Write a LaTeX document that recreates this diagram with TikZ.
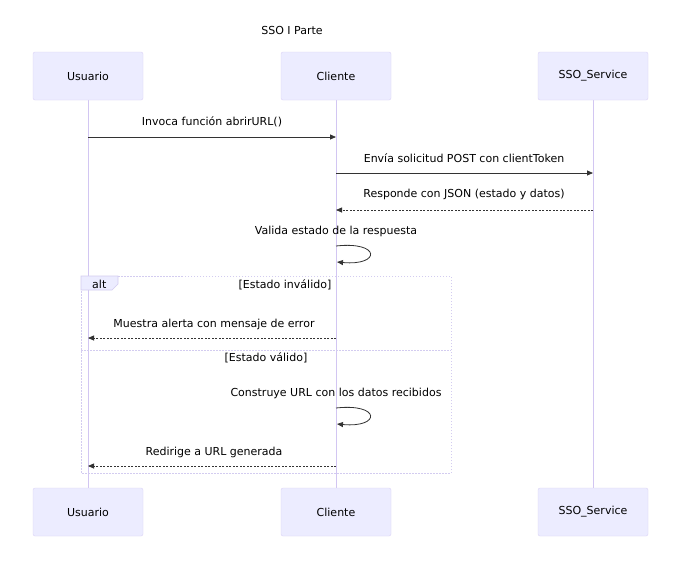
\documentclass[tikz,border=0pt]{standalone}
\usepackage{fontspec}
\setmainfont{DejaVu Sans}
\usetikzlibrary{arrows.meta}
\definecolor{actfill}{HTML}{ECECFF}
\definecolor{actdraw}{HTML}{DCD3F5}
\definecolor{lifeline}{HTML}{D2C6F2}
\definecolor{msg}{HTML}{333333}
\definecolor{altline}{HTML}{D3CCF0}
\begin{document}
\begin{tikzpicture}[x=1pt,y=-1pt,
  actor/.style={draw=actdraw,fill=actfill,rounded corners=2pt,minimum width=110pt,minimum height=48pt,inner sep=0pt,font=\fontsize{11}{13}\selectfont},
  lbl/.style={font=\fontsize{11}{13}\selectfont,text=black,inner sep=0pt},
  solidmsg/.style={draw=msg,line width=0.8pt,-{Triangle[length=6pt,width=5pt]}},
  dashmsg/.style={draw=msg,line width=0.8pt,dash pattern=on 2pt off 1.5pt,-{Triangle[length=6pt,width=5pt]}},
  lifel/.style={draw=lifeline,line width=0.8pt},
  altbox/.style={draw=altline,line width=0.8pt,dash pattern=on 1.5pt off 1.5pt}]
\useasboundingbox (0,0) rectangle (679,565);
\fill[white] (0,0) rectangle (679,565);
% lifelines
\coordinate (u0) at (88,100); \coordinate (u1) at (88,488);
\coordinate (c0) at (336,100); \coordinate (c1) at (336,488);
\coordinate (s0) at (593,100); \coordinate (s1) at (593,488);
\draw[lifel] (u0) -- (u1);
\draw[lifel] (c0) -- (c1);
\draw[lifel] (s0) -- (s1);
% actors
\node[actor] (ut) at (88,76) {Usuario};
\node[actor] (ct) at (336,76) {Cliente};
\node[actor] (st) at (593,76) {SSO\_Service};
\node[actor] (ub) at (88,512) {Usuario};
\node[actor] (cb) at (336,512) {Cliente};
\node[actor] (sb) at (593,512) {SSO\_Service};
% title
\node[lbl] (title) at (292,30) {SSO I Parte};
% alt box
\draw[altbox] (81,276) rectangle (451,473);
\draw[altbox] (81,350) -- (451,350);
\filldraw[draw=altline,fill=actfill,line width=0.6pt] (81,276) -- (118,276) -- (118,284) -- (112,290) -- (81,290) -- cycle;
\node[lbl,anchor=west] (altl) at (92,284) {alt};
\node[lbl] (g1) at (285,285) {[Estado inválido]};
\node[lbl] (g2) at (266,358) {[Estado válido]};
% message 1
\coordinate (m1a) at (88,137); \coordinate (m1b) at (336,137);
\draw[solidmsg] (m1a) -- (m1b);
\node[lbl] (l1) at (212,122) {Invoca función abrirURL()};
% message 2
\coordinate (m2a) at (336,173); \coordinate (m2b) at (593,173);
\draw[solidmsg] (m2a) -- (m2b);
\node[lbl] (l2) at (464,158) {Envía solicitud POST con clientToken};
% message 3
\coordinate (m3a) at (593,210); \coordinate (m3b) at (336,210);
\draw[dashmsg] (m3a) -- (m3b);
\node[lbl] (l3) at (464,194) {Responde con JSON (estado y datos)};
% self 1
\node[lbl] (l4) at (336,231) {Valida estado de la respuesta};
\coordinate (s1a) at (336,246); \coordinate (s1b) at (337,262);
\draw[solidmsg] (s1a) .. controls (381,241) and (381,266) .. (s1b);
% message 5
\coordinate (m5a) at (336,338); \coordinate (m5b) at (88,338);
\draw[dashmsg] (m5a) -- (m5b);
\node[lbl] (l5) at (214,324) {Muestra alerta con mensaje de error};
% self 2
\node[lbl] (l6) at (336,393) {Construye URL con los datos recibidos};
\coordinate (s2a) at (336,408); \coordinate (s2b) at (337,424);
\draw[solidmsg] (s2a) .. controls (381,403) and (381,428) .. (s2b);
% message 7
\coordinate (m7a) at (336,466); \coordinate (m7b) at (88,466);
\draw[dashmsg] (m7a) -- (m7b);
\node[lbl] (l7) at (214,452) {Redirige a URL generada};
\end{tikzpicture}
\end{document}
